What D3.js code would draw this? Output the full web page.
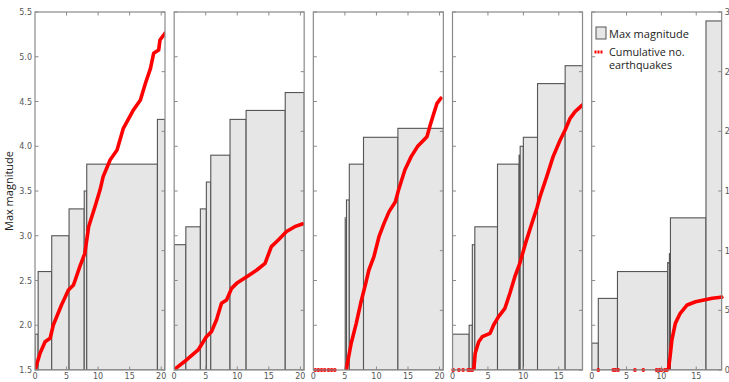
<!DOCTYPE html>
<html>
<head>
<meta charset="utf-8">
<script src="https://cdn.jsdelivr.net/npm/d3@7"></script>
<style>
  html, body { margin: 0; padding: 0; background: #fff; overflow: hidden; }
  svg { display: block; }
</style>
</head>
<body>
<svg id="chart" width="729" height="382"></svg>
<script>
// ---------- DATA ----------
const magTicks = [1.5, 2.0, 2.5, 3.0, 3.5, 4.0, 4.5, 5.0, 5.5];
const cumTicks = [0, 500, 1000, 1500, 2000, 2500, 3000];
const xTicksA = [0, 5, 10, 15, 20];
const xTicksB = [0, 5, 10, 15];
const xMax = [20.6, 20.6, 20.6, 18.35, 18.65];

// bars: [x0, x1, max magnitude]
const bars1 = [[0, 0.5, 1.9], [0.5, 2.65, 2.6], [2.65, 5.4, 3.0], [5.4, 7.8, 3.3], [7.8, 8.2, 3.5], [8.2, 19.4, 3.8], [19.4, 20.6, 4.3]];
const bars2 = [[0, 1.85, 2.9], [1.85, 4.15, 3.1], [4.15, 5.1, 3.3], [5.1, 5.8, 3.6], [5.8, 8.85, 3.9], [8.85, 11.4, 4.3], [11.4, 17.6, 4.4], [17.6, 20.6, 4.6]];
const bars3 = [[5.05, 5.25, 3.2], [5.25, 5.7, 3.4], [5.7, 7.95, 3.8], [7.95, 13.4, 4.1], [13.4, 20.6, 4.2]];
const bars4 = [[0, 2.35, 1.9], [2.35, 2.8, 2.0], [2.8, 3.15, 2.9], [3.15, 6.35, 3.1], [6.35, 9.4, 3.8], [9.4, 9.55, 3.9], [9.55, 10.0, 4.0], [10.0, 12.0, 4.1], [12.0, 15.9, 4.7], [15.9, 18.35, 4.9]];
const bars5 = [[0, 0.95, 1.8], [0.95, 3.7, 2.3], [3.7, 10.9, 2.6], [10.9, 11.15, 2.7], [11.15, 11.3, 2.8], [11.3, 16.4, 3.2], [16.4, 18.65, 5.4]];

// cumulative number of earthquakes: [x, count]
const cum1 = [[0, 0], [0.8, 140], [1.6, 237], [2.4, 266], [2.9, 377], [4.2, 545], [5.3, 670], [6.1, 712], [7.1, 866], [7.9, 978], [8.5, 1201], [9.5, 1368], [10.3, 1508], [10.8, 1620], [11.9, 1760], [13.0, 1844], [14.0, 2025], [15.6, 2179], [16.7, 2263], [17.5, 2403], [18.3, 2528], [18.8, 2654], [19.6, 2682], [19.8, 2765], [20.6, 2822]];
const cum2 = [[0.1, 8], [1.95, 84], [3.8, 168], [5.1, 279], [5.9, 321], [6.7, 419], [7.5, 559], [8.3, 587], [9.1, 684], [9.9, 726], [11.5, 782], [13.1, 838], [14.4, 894], [15.4, 1034], [16.5, 1090], [17.8, 1160], [19.1, 1201], [20.3, 1224]];
const cum3 = [[5.2, 0], [6.0, 224], [6.8, 391], [7.5, 559], [8.3, 726], [8.8, 838], [9.6, 950], [10.4, 1117], [11.2, 1229], [12.0, 1327], [13.0, 1410], [13.5, 1508], [14.5, 1676], [15.5, 1788], [16.5, 1872], [18.0, 1955], [18.6, 2067], [19.1, 2151], [19.6, 2235], [20.2, 2277]];
const cum4 = [[3.0, 0], [3.2, 140], [3.7, 237], [4.2, 279], [5.3, 307], [5.8, 377], [6.5, 447], [7.4, 517], [8.1, 643], [8.8, 782], [9.5, 894], [10.3, 1061], [11.2, 1229], [11.9, 1355], [12.35, 1452], [13.3, 1620], [14.2, 1788], [15.2, 1927], [15.9, 2011], [16.6, 2109], [17.3, 2165], [18.35, 2221]];
const cum5 = [[11.0, 0], [11.25, 112], [11.5, 251], [12.0, 391], [12.7, 475], [13.7, 545], [14.9, 572], [16.1, 587], [17.3, 601], [18.5, 609]];

// isolated early events drawn as separate markers
const dots1 = [];
const dots2 = [];
const dots3 = [[0.3, 0], [0.8, 0], [1.3, 0], [1.8, 0], [2.4, 0], [2.9, 0], [3.4, 0]];
const dots4 = [[0.1, 0], [0.9, 0], [1.5, 0], [2.2, 0], [2.5, 0], [2.8, 0]];
const dots5 = [[0.95, 0], [3.1, 0], [3.4, 0], [3.8, 0], [6.2, 0], [7.4, 0], [9.3, 0], [9.7, 0], [10.0, 0], [10.5, 0], [10.8, 0], [18.65, 610]];

const barsAll = [bars1, bars2, bars3, bars4, bars5];
const cumAll = [cum1, cum2, cum3, cum4, cum5];
const dotsAll = [dots1, dots2, dots3, dots4, dots5];
const xTickSets = [xTicksA, xTicksA, xTicksA, xTicksB, xTicksB];

// ---------- LAYOUT ----------
const svg = d3.select("#chart");
const plotTop = 12, plotBottom = 370;
const left0 = 35, pw = 130, gap = 9.17;
const frameColor = "#8a8a8a";
const tickFont = "DejaVu Sans, sans-serif";
const labelColor = "#555";

const yMag = d3.scaleLinear().domain([1.5, 5.5]).range([plotBottom, plotTop]);
const yCum = d3.scaleLinear().domain([0, 3000]).range([plotBottom, plotTop]);

const defs = svg.append("defs");

for (let i = 0; i < 5; i++) {
  const x0 = left0 + i * (pw + gap);
  const x = d3.scaleLinear().domain([0, xMax[i]]).range([x0, x0 + pw]);
  const g = svg.append("g");

  defs.append("clipPath").attr("id", "clip" + i)
    .append("rect").attr("x", x0).attr("y", plotTop).attr("width", pw).attr("height", plotBottom - plotTop);

  const plot = g.append("g").attr("clip-path", `url(#clip${i})`);

  plot.selectAll("rect.bar").data(barsAll[i]).join("rect")
    .attr("class", "bar")
    .attr("x", d => x(d[0]))
    .attr("width", d => x(d[1]) - x(d[0]))
    .attr("y", d => yMag(d[2]))
    .attr("height", d => plotBottom - yMag(d[2]))
    .attr("fill", "#e6e6e6")
    .attr("stroke", "#555")
    .attr("stroke-width", 1.1);

  const line = d3.line().x(d => x(d[0])).y(d => yCum(d[1]));
  plot.append("path").datum(cumAll[i])
    .attr("d", line)
    .attr("fill", "none")
    .attr("stroke", "#ff0000")
    .attr("stroke-width", 3.6)
    .attr("stroke-linejoin", "round")
    .attr("stroke-linecap", "round");

  g.selectAll("circle.dot").data(dotsAll[i]).join("circle")
    .attr("class", "dot")
    .attr("cx", d => x(d[0]))
    .attr("cy", d => yCum(d[1]))
    .attr("r", 1.9)
    .attr("fill", "#ff0000");

  g.append("rect")
    .attr("x", x0).attr("y", plotTop).attr("width", pw).attr("height", plotBottom - plotTop)
    .attr("fill", "none").attr("stroke", frameColor).attr("stroke-width", 1.2);

  const tl = 3.5;
  xTickSets[i].forEach(t => {
    if (t === 0) return;
    g.append("line").attr("x1", x(t)).attr("x2", x(t)).attr("y1", plotBottom).attr("y2", plotBottom - tl)
      .attr("stroke", frameColor).attr("stroke-width", 1);
    g.append("line").attr("x1", x(t)).attr("x2", x(t)).attr("y1", plotTop).attr("y2", plotTop + tl)
      .attr("stroke", frameColor).attr("stroke-width", 1);
  });
  magTicks.forEach(t => {
    g.append("line").attr("x1", x0).attr("x2", x0 + tl).attr("y1", yMag(t)).attr("y2", yMag(t))
      .attr("stroke", frameColor).attr("stroke-width", 1);
  });
  cumTicks.forEach(t => {
    g.append("line").attr("x1", x0 + pw).attr("x2", x0 + pw - tl).attr("y1", yCum(t)).attr("y2", yCum(t))
      .attr("stroke", frameColor).attr("stroke-width", 1);
  });

  g.selectAll("text.xt").data(xTickSets[i]).join("text")
    .attr("class", "xt")
    .attr("x", d => x(d))
    .attr("y", 379)
    .attr("text-anchor", "middle")
    .attr("font-family", tickFont)
    .attr("font-size", 8)
    .attr("fill", labelColor)
    .text(d => d);

  if (i === 0) {
    g.selectAll("text.yt").data(magTicks).join("text")
      .attr("class", "yt")
      .attr("x", x0 - 3)
      .attr("y", d => yMag(d) + 3)
      .attr("text-anchor", "end")
      .attr("font-family", tickFont)
      .attr("font-size", 8)
      .attr("fill", labelColor)
      .text(d => d.toFixed(1));
  }
  if (i === 4) {
    g.selectAll("text.yt2").data(cumTicks).join("text")
      .attr("class", "yt2")
      .attr("x", x0 + pw + 3)
      .attr("y", d => yCum(d) + 3)
      .attr("text-anchor", "start")
      .attr("font-family", tickFont)
      .attr("font-size", 8)
      .attr("fill", labelColor)
      .text(d => d);
  }
}

svg.append("text")
  .attr("transform", `translate(10,${(plotTop + plotBottom) / 2}) rotate(-90)`)
  .attr("text-anchor", "middle")
  .attr("dominant-baseline", "middle")
  .attr("font-family", "Open Sans, sans-serif")
  .attr("font-size", 11)
  .attr("fill", "#222")
  .text("Max magnitude");

const lg = svg.append("g");
lg.append("rect").attr("x", 596).attr("y", 27).attr("width", 10).attr("height", 12)
  .attr("fill", "#e6e6e6").attr("stroke", "#555").attr("stroke-width", 1);
lg.append("text").attr("x", 609).attr("y", 37.5)
  .attr("font-family", "Open Sans, sans-serif").attr("font-size", 11).attr("fill", "#222")
  .text("Max magnitude");
lg.append("line").attr("x1", 594.5).attr("x2", 602.5).attr("y1", 52).attr("y2", 52)
  .attr("stroke", "#ff0000").attr("stroke-width", 3).attr("stroke-dasharray", "2,1");
lg.append("text").attr("x", 609).attr("y", 55.5)
  .attr("font-family", "Open Sans, sans-serif").attr("font-size", 10.8).attr("fill", "#222")
  .text("Cumulative no.");
lg.append("text").attr("x", 609).attr("y", 68.5)
  .attr("font-family", "Open Sans, sans-serif").attr("font-size", 10.8).attr("fill", "#222")
  .text("earthquakes");
</script>
</body>
</html>
